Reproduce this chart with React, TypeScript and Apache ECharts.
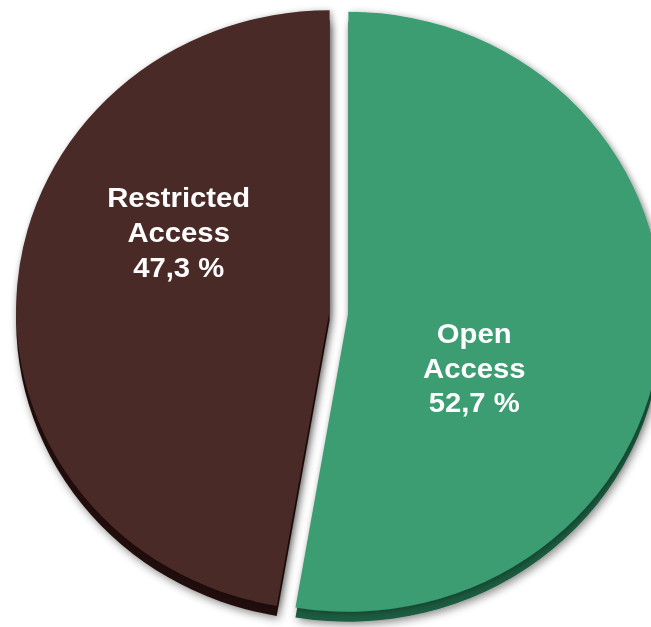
import React, { useEffect, useRef } from "react";
import * as echarts from "echarts";

const categories = ["Open Access", "Restricted Access"];
const shares = [52.7, 47.3];
const sliceColors = ["#3c9d72", "#4a2a26"];
const rimColors = ["#1f5c41", "#220d09"];

export default function App() {
  const ref = useRef<HTMLDivElement>(null);
  useEffect(() => {
    document.body.style.margin = "0";
    if (!ref.current) return;
    const chart = echarts.init(ref.current, null, { renderer: "svg" });
    const makeData = (colors: string[]) =>
      categories.map((name, i) => ({
        name,
        value: shares[i],
        selected: true,
        itemStyle: { color: colors[i] },
        select: { itemStyle: { color: colors[i] } },
      }));
    chart.setOption({
      animation: false,
      backgroundColor: "#ffffff",
      series: [
        {
          type: "pie",
          silent: true,
          z: 1,
          center: [339, 321],
          radius: 300,
          startAngle: 90,
          clockwise: true,
          selectedMode: "multiple",
          selectedOffset: 9,
          emphasis: { disabled: true },
          itemStyle: {
            shadowBlur: 8,
            shadowColor: "rgba(0,0,0,0.45)",
            shadowOffsetX: 2,
            shadowOffsetY: 3,
          },
          label: { show: false },
          labelLine: { show: false },
          data: makeData(rimColors),
        },
        {
          type: "pie",
          z: 2,
          center: [339, 311],
          radius: 300,
          startAngle: 90,
          clockwise: true,
          selectedMode: "multiple",
          selectedOffset: 9,
          emphasis: { disabled: true },
          itemStyle: {
            shadowBlur: 6,
            shadowColor: "rgba(0,0,0,0.35)",
            shadowOffsetX: 2,
            shadowOffsetY: 1,
          },
          label: {
            show: true,
            position: "inside",
            color: "#ffffff",
            fontFamily: "Liberation Sans, Arial, sans-serif",
            fontWeight: "bold",
            fontSize: 28,
            lineHeight: 35,
            align: "center",
            formatter: (p: any) =>
              p.name.replace(" ", "\n") +
              "\n" +
              Number(p.value).toFixed(1).replace(".", ",") +
              " %",
          },
          labelLine: { show: false },
          labelLayout: (p: any) =>
            p.dataIndex === 0 ? { dx: -32, dy: 43 } : { dx: 8, dy: -65 },
          data: makeData(sliceColors),
        },
      ],
    });
    return () => chart.dispose();
  }, []);
  return (
    <div style={{ width: 651, height: 627, overflow: "hidden" }}>
      <div
        ref={ref}
        style={{
          width: 651,
          height: 627,
          transform: "scaleX(1.045)",
          transformOrigin: "339px 0px",
        }}
      />
    </div>
  );
}
